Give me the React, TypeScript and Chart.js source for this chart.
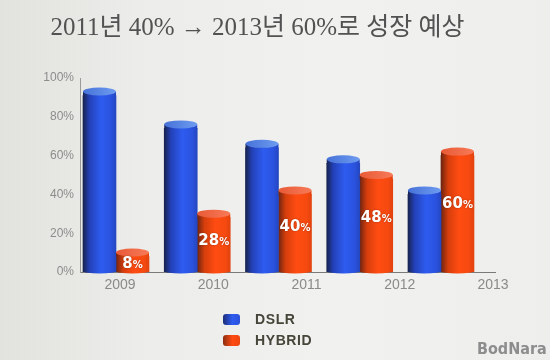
import React, { useEffect, useRef } from "react";
import { Chart, registerables } from "chart.js";

Chart.register(...registerables);

// ---- data ----
const TITLE = "2011년 40% → 2013년 60%로 성장 예상";
const years = ["2009", "2010", "2011", "2012", "2013"];
const seriesNames = ["DSLR", "HYBRID"];
const dslr = [91, 74, 64, 56, 40];
const hybrid = [8, 28, 40, 48, 60];
const yMax = 100;
const yStep = 20;
const WATERMARK = "BodNara";

// ---- styles ----
const PALETTES = [
  {
    body: [
      [0, "#17234f"],
      [0.2, "#2341b8"],
      [0.55, "#2e5cf0"],
      [0.85, "#2a52de"],
      [1, "#2446c0"],
    ],
    top: [
      [0, "#4672d8"],
      [1, "#6e9cf0"],
    ],
    swatch: "linear-gradient(90deg,#1c2d78,#2e5cf0 55%,#2a50d8)",
  },
  {
    body: [
      [0, "#6e2410"],
      [0.22, "#d63e0c"],
      [0.55, "#ff4c12"],
      [0.85, "#f64a10"],
      [1, "#e2420e"],
    ],
    top: [
      [0, "#e85a36"],
      [1, "#f87a58"],
    ],
    swatch: "linear-gradient(90deg,#8a2c10,#ff4c12 55%,#ee4610)",
  },
] as const;

const RY = 4;

function makeGrad(ctx: CanvasRenderingContext2D, x0: number, x1: number, stops: readonly (readonly [number, string])[]) {
  const g = ctx.createLinearGradient(x0, 0, x1, 0);
  stops.forEach(([o, c]) => g.addColorStop(o, c));
  return g;
}

const cylinderPlugin = {
  id: "cylinders",
  beforeDatasetsDraw(chart: any) {
    const ctx = chart.ctx as CanvasRenderingContext2D;
    chart.data.datasets.forEach((_ds: any, di: number) => {
      const meta = chart.getDatasetMeta(di);
      const pal = PALETTES[di];
      meta.data.forEach((el: any) => {
        const { x, width } = el.getProps(["x", "width"], true);
        const g = makeGrad(ctx, x - width / 2, x + width / 2, pal.body);
        el.options = { ...el.options, backgroundColor: g, borderWidth: 0 };
      });
    });
  },
  afterDatasetsDraw(chart: any) {
    const ctx = chart.ctx as CanvasRenderingContext2D;
    chart.data.datasets.forEach((_ds: any, di: number) => {
      const meta = chart.getDatasetMeta(di);
      const pal = PALETTES[di];
      meta.data.forEach((el: any, i: number) => {
        const { x, y, base, width } = el.getProps(["x", "y", "base", "width"], true);
        const rx = width / 2;
        const body = makeGrad(ctx, x - rx, x + rx, pal.body);
        const top = makeGrad(ctx, x - rx, x + rx, pal.top);
        ctx.save();
        ctx.fillStyle = body;
        ctx.fillRect(x - rx, y - RY, width, RY + 0.5);
        ctx.beginPath();
        ctx.ellipse(x, base - 1, rx, 2.5, 0, 0, Math.PI);
        ctx.fill();
        ctx.fillStyle = top;
        ctx.beginPath();
        ctx.ellipse(x, y - RY, rx, RY, 0, 0, Math.PI * 2);
        ctx.fill();
        ctx.restore();

        if (di === 1) {
          const v = chart.data.datasets[di].data[i].y;
          const ly = base + (y - base) * 0.6;
          const num = String(v);
          ctx.save();
          ctx.font = "bold 15px 'DejaVu Sans', sans-serif";
          const w1 = ctx.measureText(num).width;
          ctx.font = "bold 10px 'DejaVu Sans', sans-serif";
          const w2 = ctx.measureText("%").width;
          const sx = x - (w1 + w2) / 2;
          ctx.fillStyle = "#ffffff";
          ctx.shadowColor = "rgba(0,0,0,0.35)";
          ctx.shadowBlur = 2;
          ctx.textBaseline = "alphabetic";
          ctx.textAlign = "left";
          ctx.font = "bold 15px 'DejaVu Sans', sans-serif";
          ctx.fillText(num, sx, ly + 5.5);
          ctx.font = "bold 10px 'DejaVu Sans', sans-serif";
          ctx.fillText("%", sx + w1, ly + 5.5);
          ctx.restore();
        }
      });
    });
  },
};

export default function App() {
  const canvasRef = useRef<HTMLCanvasElement | null>(null);

  useEffect(() => {
    const canvas = canvasRef.current;
    if (!canvas) return;
    const seriesValues = [dslr, hybrid];
    const chart = new Chart(canvas, {
      type: "bar",
      data: {
        datasets: seriesNames.map((name, di) => ({
          label: name,
          data: seriesValues[di].map((v, i) => ({ x: i, y: v })),
          backgroundColor: PALETTES[di].body[2][1],
          borderWidth: 0,
          barThickness: 33,
          grouped: true,
        })),
      },
      options: {
        animation: false,
        responsive: false,
        devicePixelRatio: 1,
        events: [],
        layout: { padding: { left: 20, right: 55, top: 0, bottom: 62 } },
        plugins: {
          legend: { display: false },
          tooltip: { enabled: false },
          title: {
            display: true,
            text: TITLE,
            color: "#525252",
            font: {
              family: "'Liberation Serif', 'Noto Sans CJK KR', serif",
              size: 25,
              weight: "normal",
            },
            padding: { top: 13, bottom: 35 },
          },
        },
        scales: {
          x: {
            type: "linear",
            position: "bottom",
            weight: 0,
            offset: false,
            min: -0.443,
            max: 4.665,
            grid: { display: false, drawTicks: false },
            border: { display: true, color: "#7a7a7a", width: 1 },
            ticks: { display: false, stepSize: 1, includeBounds: false },
            afterFit: (s: any) => {
              s.height = 0;
            },
          },
          x2: {
            type: "linear",
            position: "bottom",
            weight: 1,
            offset: false,
            min: -0.429,
            max: 4.022,
            grid: { display: false, drawTicks: false },
            border: { display: false },
            ticks: {
              stepSize: 1,
              includeBounds: false,
              autoSkip: false,
              maxRotation: 0,
              padding: 5,
              color: "#8a8a8a",
              font: { family: "'Liberation Sans', Arial, sans-serif", size: 14 },
              callback: (v: any) => years[v] ?? "",
            },
            afterFit: (s: any) => {
              s.height = 26;
            },
          },
          y: {
            type: "linear",
            min: 0,
            max: yMax,
            grid: { display: false, drawTicks: false },
            border: { display: true, color: "#9a9a9a", width: 1 },
            ticks: {
              stepSize: yStep,
              padding: 6,
              color: "#8c8c8c",
              font: { family: "'Liberation Sans Narrow', 'Liberation Sans', sans-serif", size: 12 },
              callback: (v: any) => v + "%",
            },
            afterFit: (s: any) => {
              s.width = 60;
            },
          },
        },
      } as any,
      plugins: [cylinderPlugin as any],
    });
    return () => chart.destroy();
  }, []);

  return (
    <div
      style={{
        position: "fixed",
        left: 0,
        top: 0,
        width: 550,
        height: 360,
        overflow: "hidden",
        background:
          "linear-gradient(90deg, #e2e3de 0%, #ecedea 25%, #f1f1ef 60%, #eeeeec 100%)",
      }}
    >
      <canvas ref={canvasRef} width={550} height={360} style={{ position: "absolute", left: 0, top: 0 }} />
      {seriesNames.map((name, i) => (
        <div
          key={name}
          style={{
            position: "absolute",
            left: 223,
            top: 311 + i * 21,
            height: 16,
            display: "flex",
            alignItems: "center",
          }}
        >
          <div
            style={{
              width: 17,
              height: 11,
              borderRadius: 3,
              background: PALETTES[i].swatch,
              marginRight: 15,
            }}
          />
          <span
            style={{
              fontFamily: "'Liberation Sans', Arial, sans-serif",
              fontWeight: "bold",
              fontSize: 14,
              letterSpacing: 0.6,
              color: "#45453a",
            }}
          >
            {name}
          </span>
        </div>
      ))}
      <div
        style={{
          position: "absolute",
          left: 477,
          top: 339,
          fontFamily: "'DejaVu Sans Condensed', 'DejaVu Sans', sans-serif",
          fontWeight: "bold",
          fontSize: 16,
          color: "#8d8d8d",
        }}
      >
        {WATERMARK}
      </div>
    </div>
  );
}
